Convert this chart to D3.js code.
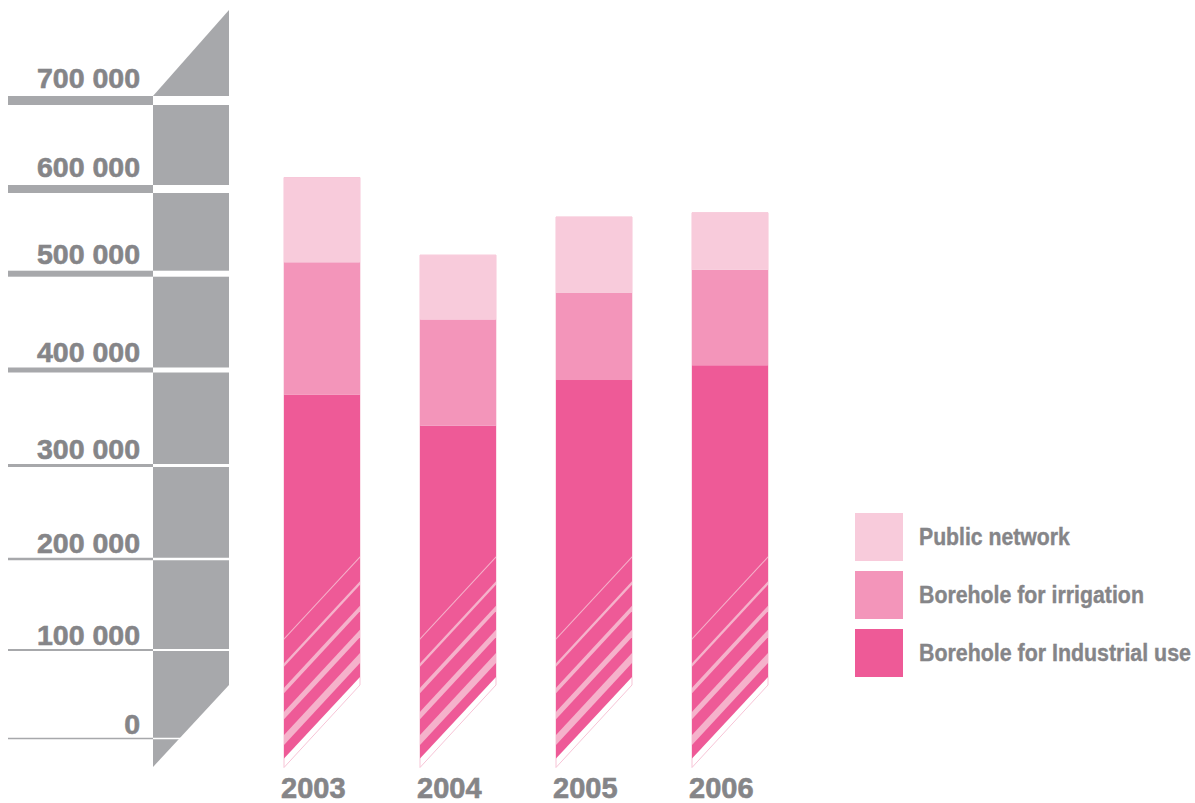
<!DOCTYPE html>
<html>
<head>
<meta charset="utf-8">
<script src="https://cdn.jsdelivr.net/npm/d3@7"></script>
<style>
  html, body { margin: 0; padding: 0; background: #ffffff; }
  svg { display: block; }
</style>
</head>
<body>
<svg id="chart" width="1195" height="803"></svg>
<script>
// ---------------- DATA ----------------
const years = ["2003", "2004", "2005", "2006"];
const industrialUse = [374000, 342000, 389500, 405000];
const irrigation = [139500, 110500, 90500, 99500];
const publicNetwork = [99500, 69500, 87000, 67500];
const seriesNames = ["Public network", "Borehole for irrigation", "Borehole for Industrial use"];
const tickValues = [0, 100000, 200000, 300000, 400000, 500000, 600000, 700000];
const tickLabels = ["0", "100 000", "200 000", "300 000", "400 000", "500 000", "600 000", "700 000"];

// ---------------- STYLE / LAYOUT ----------------
const W = 1195, H = 803;
const textColor = "#858588";
const gray = "#a7a8ab";
const colors = {
  "Public network": "#f8cbdb",
  "Borehole for irrigation": "#f395ba",
  "Borehole for Industrial use": "#ee5a97"
};
const stripeColor = "#f5b2cb";
const tickWeights = [1.5, 2, 2.5, 3, 5, 6, 8, 9];
const fontFamily = "'Liberation Sans', Arial, sans-serif";

const svg = d3.select("#chart");

// polylinear value scale fitted to the printed gridlines
const y = d3.scaleLinear()
  .domain(tickValues)
  .range([738.5, 650, 559, 465.5, 370, 273.7, 189, 100.5]);
const y0 = y(0);

const x = d3.scaleBand()
  .domain(years)
  .range([284, 768])
  .paddingInner(0.4412)
  .paddingOuter(0);

// ---------------- AXIS COLUMN ----------------
const colL = 153, colR = 229;
const yTopApex = y(700000) - 90.5;
svg.append("path")
  .attr("d", `M${colR},${yTopApex} L${colR},${y0 - 53.5} L${colL},${y0 + 28.5} L${colL},${y(700000) - tickWeights[7] / 2} Z`)
  .attr("fill", gray);

const ticks = svg.append("g");
tickValues.forEach((v, i) => {
  const yy = y(v), t = tickWeights[i];
  ticks.append("rect")
    .attr("x", 8).attr("y", yy - t / 2)
    .attr("width", colL - 8).attr("height", t)
    .attr("fill", gray);
  ticks.append("rect")
    .attr("x", colL).attr("y", yy - t / 2)
    .attr("width", colR - colL + 1).attr("height", t)
    .attr("fill", "#ffffff");
  ticks.append("text")
    .attr("x", 140)
    .attr("y", yy - t / 2 - (3 + t * 0.6))
    .attr("text-anchor", "end")
    .attr("font-family", fontFamily)
    .attr("font-weight", "bold")
    .attr("font-size", 28.5)
    .attr("fill", textColor)
    .attr("stroke", textColor)
    .attr("stroke-width", 0.6)
    .text(tickLabels[i]);
});

// ---------------- BARS ----------------
const rows = years.map((yr, i) => ({
  year: yr,
  "Borehole for Industrial use": industrialUse[i],
  "Borehole for irrigation": irrigation[i],
  "Public network": publicNetwork[i]
}));
const stackKeys = ["Borehole for Industrial use", "Borehole for irrigation", "Public network"];
const stacked = d3.stack().keys(stackKeys)(rows);

const defs = svg.append("defs");
const barsG = svg.append("g");

const stripeOffsets = [-99.5, -73.5, -48, -23, 1.5];
const stripeThick = [1.5, 3.5, 5.5, 7.5, 10];
const slopeRise = 82;

years.forEach((yr, i) => {
  const x0 = x(yr), x1 = x0 + x.bandwidth();
  const total = stacked[2][i][1];
  // outline
  barsG.append("path")
    .attr("d", `M${x0},${y(total)} L${x1},${y(total)} L${x1},${y0 - 53.5} L${x0},${y0 + 29} Z`)
    .attr("fill", "#ffffff")
    .attr("stroke", "#f7c4d6")
    .attr("stroke-width", 1);

  // industrial segment with slanted bottom
  const indTop = y(stacked[0][i][1]);
  const indPath = `M${x0},${indTop} L${x1},${indTop} L${x1},${y0 - 61.5} L${x0},${y0 + 20} Z`;
  barsG.append("path").attr("d", indPath).attr("fill", colors["Borehole for Industrial use"]);

  const clipId = "clip" + yr;
  defs.append("clipPath").attr("id", clipId).append("path").attr("d", indPath);
  const hatch = barsG.append("g").attr("clip-path", `url(#${clipId})`);
  stripeOffsets.forEach((off, k) => {
    const cL = y0 + off, cR = cL - slopeRise, h = stripeThick[k] / 2;
    hatch.append("path")
      .attr("d", `M${x0 - 2},${cL - h + 2.16} L${x1 + 2},${cR - h - 2.16} L${x1 + 2},${cR + h - 2.16} L${x0 - 2},${cL + h + 2.16} Z`)
      .attr("fill", stripeColor);
  });

  // upper segments
  [1, 2].forEach(s => {
    const key = stackKeys[s];
    const d = stacked[s][i];
    barsG.append("rect")
      .attr("x", x0).attr("y", y(d[1]))
      .attr("width", x.bandwidth())
      .attr("height", y(d[0]) - y(d[1]))
      .attr("fill", colors[key]);
  });

  // year label
  svg.append("text")
    .attr("x", x0 - 3)
    .attr("y", 798)
    .attr("font-family", fontFamily)
    .attr("font-weight", "bold")
    .attr("font-size", 29)
    .attr("fill", textColor)
    .attr("stroke", textColor)
    .attr("stroke-width", 0.6)
    .text(yr);
});

// ---------------- LEGEND ----------------
const legendLengths = [151, 225, 272];
const legend = svg.append("g");
seriesNames.forEach((name, i) => {
  const top = 513 + i * 58;
  legend.append("rect")
    .attr("x", 855).attr("y", top)
    .attr("width", 48).attr("height", 48)
    .attr("fill", colors[name]);
  const t = legend.append("text")
    .attr("x", 0).attr("y", 0)
    .attr("font-family", fontFamily)
    .attr("font-weight", "bold")
    .attr("font-size", 24.5)
    .attr("fill", textColor)
    .attr("stroke", textColor)
    .attr("stroke-width", 0.4)
    .text(name);
  const natural = t.node().getComputedTextLength();
  const sx = legendLengths[i] / natural;
  t.attr("transform", `translate(919,${top + 32}) scale(${sx},1)`);
});
</script>
</body>
</html>
